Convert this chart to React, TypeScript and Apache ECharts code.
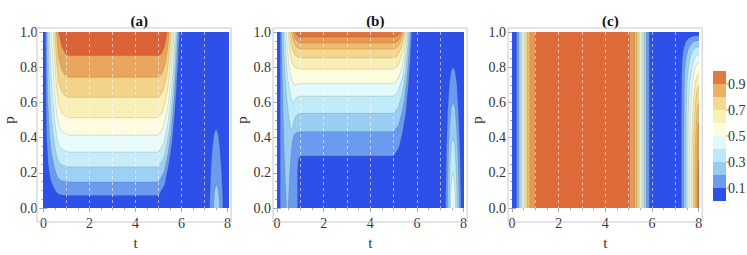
import { useEffect, useRef } from "react";
import * as echarts from "echarts";

type Pt = [number, number];

// ---- colour bands (bottom -> top) ----
const colorsA = ["#2f50e8", "#6a9bef", "#9dd0f5", "#c4edf9", "#e8fbfc", "#fdfce0", "#faefb6", "#f3d38a", "#e9a65e", "#db6136"];
const colorsB = ["#2f50e8", "#6a9bef", "#9acdf4", "#c0ebf8", "#e3fafc", "#fdfcdc", "#f9eeb5", "#f4d68c", "#eebb6c", "#e89a55", "#de7440"];
const colorsC = ["#2f50e8", "#6a9bef", "#9acdf4", "#c0ebf8", "#e3fafc", "#fdfcdc", "#f9eeb5", "#f4d68c", "#eebb6c", "#e89a55", "#de6a3a"];
const legendColors = ["#2f50e8", "#6a9bef", "#97cbf4", "#bce8f8", "#e0fafb", "#fdfcdc", "#fbf0b4", "#f4d88c", "#ebb064", "#e07a44"];
const legendLabels = ["0.1", "0.3", "0.5", "0.7", "0.9"];
const legendLabelValues = [0.1, 0.3, 0.5, 0.7, 0.9];
const titles = ["(a)", "(b)", "(c)"];

// ---- panel (a): contour regions (value >= level k), k = 1..9 ----
const aMain: Pt[][] = [
  [[0.09,1.05],[0.09,1],[0.115,0.59],[0.14,0.414],[0.2,0.262],[0.27,0.191],[0.34,0.148],[0.43,0.122],[0.5,0.104],[0.57,0.09],[0.66,0.08],[0.8,0.074],[1.1,0.071],[5.0,0.071],[5.273,0.136],[5.455,0.257],[5.592,0.378],[5.728,0.582],[5.837,0.814],[5.91,1],[5.91,1.05]],
  [[0.14,1.05],[0.14,1],[0.17,0.743],[0.2,0.591],[0.27,0.414],[0.34,0.318],[0.43,0.262],[0.5,0.222],[0.57,0.191],[0.66,0.167],[0.8,0.155],[1.1,0.148],[5.0,0.148],[5.252,0.208],[5.42,0.318],[5.546,0.429],[5.672,0.617],[5.773,0.83],[5.84,1],[5.84,1.05]],
  [[0.2,1.05],[0.2,1],[0.235,0.813],[0.27,0.686],[0.34,0.514],[0.43,0.414],[0.5,0.346],[0.57,0.297],[0.66,0.262],[0.8,0.245],[1.1,0.234],[5.0,0.234],[5.237,0.288],[5.395,0.387],[5.514,0.487],[5.632,0.655],[5.727,0.847],[5.79,1],[5.79,1.05]],
  [[0.27,1.05],[0.27,1],[0.305,0.852],[0.34,0.743],[0.43,0.591],[0.5,0.485],[0.57,0.414],[0.66,0.36],[0.8,0.334],[1.1,0.318],[5.0,0.318],[5.219,0.366],[5.365,0.454],[5.475,0.543],[5.584,0.693],[5.672,0.864],[5.73,1],[5.73,1.05]],
  [[0.34,1.05],[0.34,1],[0.385,0.878],[0.43,0.784],[0.5,0.645],[0.57,0.543],[0.66,0.47],[0.8,0.435],[1.1,0.414],[5.0,0.414],[5.201,0.455],[5.335,0.531],[5.436,0.607],[5.536,0.736],[5.616,0.883],[5.67,1],[5.67,1.05]],
  [[0.43,1.05],[0.43,1],[0.465,0.897],[0.5,0.813],[0.57,0.686],[0.66,0.591],[0.8,0.543],[0.95,0.521],[1.1,0.514],[5.0,0.514],[5.183,0.548],[5.305,0.611],[5.397,0.674],[5.488,0.781],[5.561,0.903],[5.61,1],[5.61,1.05]],
  [[0.5,1.05],[0.5,1],[0.535,0.91],[0.57,0.835],[0.66,0.718],[0.8,0.662],[0.95,0.637],[1.1,0.629],[5.0,0.629],[5.162,0.655],[5.27,0.703],[5.351,0.751],[5.432,0.833],[5.497,0.926],[5.54,1],[5.54,1.05]],
  [[0.57,1.05],[0.57,1],[0.615,0.921],[0.66,0.852],[0.8,0.784],[0.95,0.753],[1.1,0.743],[5.0,0.743],[5.141,0.761],[5.235,0.794],[5.306,0.828],[5.376,0.884],[5.432,0.949],[5.47,1],[5.47,1.05]],
  [[0.66,1.05],[0.66,1],[0.73,0.957],[0.8,0.916],[0.95,0.878],[1.1,0.866],[5.0,0.866],[5.111,0.875],[5.185,0.893],[5.241,0.91],[5.296,0.94],[5.34,0.973],[5.37,1],[5.37,1.05]],
];
const aBump: Pt[][] = [
  [[7.22,-0.05],[7.23,0.05],[7.27,0.2],[7.33,0.33],[7.41,0.42],[7.5,0.45],[7.59,0.42],[7.67,0.33],[7.74,0.2],[7.79,0.05],[7.8,-0.05]],
  [[7.39,-0.05],[7.4,0.03],[7.44,0.1],[7.52,0.14],[7.6,0.1],[7.65,0.03],[7.66,-0.05]],
];

// ---- panel (b): contour regions, k = 1..10 ----
const bMain: Pt[][] = [
  [[0.14,1.05],[0.14,-0.05],[0.88,-0.05],[0.88,0.2],[0.9,0.26],[0.95,0.288],[1.05,0.296],[5.0,0.296],[5.234,0.345],[5.39,0.437],[5.507,0.528],[5.624,0.683],[5.718,0.859],[5.78,1],[5.78,1.05]],
  [[0.2,1.05],[0.2,1],[0.22,0.8],[0.26,0.55],[0.3,0.35],[0.35,0.18],[0.39,0.06],[0.41,-0.05],[0.47,-0.05],[0.5,0.06],[0.55,0.2],[0.6,0.3],[0.65,0.37],[0.72,0.415],[0.82,0.43],[1.0,0.434],[5.0,0.434],[5.216,0.474],[5.36,0.547],[5.468,0.621],[5.576,0.745],[5.662,0.887],[5.72,1],[5.72,1.05]],
  [[0.27,1.05],[0.27,1],[0.3,0.88],[0.35,0.74],[0.42,0.62],[0.5,0.52],[0.56,0.47],[0.6,0.447],[0.63,0.443],[0.67,0.46],[0.74,0.5],[0.82,0.525],[0.92,0.535],[1.05,0.538],[5.0,0.538],[5.198,0.57],[5.33,0.63],[5.429,0.69],[5.528,0.792],[5.607,0.908],[5.66,1],[5.66,1.05]],
  [[0.34,1.05],[0.34,1],[0.38,0.88],[0.44,0.76],[0.52,0.68],[0.6,0.63],[0.66,0.605],[0.7,0.598],[0.74,0.606],[0.8,0.624],[0.9,0.634],[1.05,0.636],[5.0,0.636],[5.183,0.661],[5.305,0.709],[5.397,0.756],[5.488,0.836],[5.561,0.927],[5.61,1],[5.61,1.05]],
  [[0.41,1.05],[0.41,1],[0.45,0.9],[0.52,0.8],[0.6,0.74],[0.7,0.71],[0.78,0.696],[0.84,0.7],[0.92,0.706],[1.05,0.707],[5.0,0.707],[5.168,0.728],[5.28,0.766],[5.364,0.804],[5.448,0.868],[5.515,0.941],[5.56,1],[5.56,1.05]],
  [[0.48,1.05],[0.48,1],[0.52,0.92],[0.58,0.86],[0.66,0.82],[0.76,0.8],[0.9,0.791],[1.05,0.789],[5.0,0.789],[5.153,0.804],[5.255,0.831],[5.332,0.859],[5.408,0.905],[5.469,0.958],[5.51,1],[5.51,1.05]],
  [[0.55,1.05],[0.55,1],[0.6,0.94],[0.67,0.9],[0.76,0.872],[0.88,0.858],[1.05,0.853],[5.0,0.853],[5.138,0.863],[5.23,0.882],[5.299,0.902],[5.368,0.934],[5.423,0.971],[5.46,1],[5.46,1.05]],
  [[0.62,1.05],[0.62,1],[0.68,0.96],[0.76,0.93],[0.86,0.912],[1.0,0.904],[1.1,0.903],[5.0,0.903],[5.123,0.91],[5.205,0.922],[5.267,0.935],[5.328,0.956],[5.377,0.981],[5.41,1],[5.41,1.05]],
  [[0.7,1.05],[0.7,1],[0.76,0.97],[0.84,0.952],[0.95,0.941],[1.1,0.938],[5.0,0.938],[5.108,0.942],[5.18,0.95],[5.234,0.958],[5.288,0.972],[5.331,0.988],[5.36,1],[5.36,1.05]],
  [[0.79,1.05],[0.79,1],[0.84,0.985],[0.92,0.975],[1.05,0.972],[5.0,0.972],[5.09,0.974],[5.15,0.978],[5.195,0.981],[5.24,0.987],[5.276,0.994],[5.3,1],[5.3,1.05]],
];
const bBump: Pt[][] = [
  [[7.23,-0.05],[7.24,0.1],[7.27,0.35],[7.32,0.55],[7.39,0.7],[7.47,0.78],[7.55,0.8],[7.63,0.78],[7.71,0.7],[7.78,0.55],[7.84,0.35],[7.88,0.1],[7.89,-0.05]],
  [[7.31,-0.05],[7.32,0.1],[7.35,0.3],[7.4,0.46],[7.47,0.57],[7.55,0.6],[7.63,0.57],[7.7,0.46],[7.76,0.3],[7.8,0.1],[7.81,-0.05]],
  [[7.38,-0.05],[7.39,0.1],[7.42,0.25],[7.47,0.36],[7.55,0.4],[7.62,0.36],[7.67,0.25],[7.71,0.1],[7.72,-0.05]],
  [[7.43,-0.05],[7.44,0.07],[7.48,0.16],[7.54,0.2],[7.6,0.16],[7.64,0.07],[7.65,-0.05]],
];

// ---- panel (c): vertical bands (left / right edge of each level) + right-hand rise ----
const cLeft = [0.2, 0.28, 0.35, 0.41, 0.47, 0.53, 0.6, 0.67, 0.77, 0.99];
const cRight = [5.88, 5.76, 5.67, 5.6, 5.53, 5.47, 5.41, 5.35, 5.25, 5.03];
const cBump: Pt[][] = [
  [[7.26,-0.05],[7.26,0.5],[7.27,0.75],[7.3,0.85],[7.36,0.91],[7.45,0.945],[7.58,0.965],[7.75,0.976],[8.05,0.98],[8.05,-0.05]],
  [[7.37,-0.05],[7.37,0.45],[7.38,0.68],[7.41,0.79],[7.47,0.86],[7.56,0.905],[7.68,0.933],[7.83,0.948],[8.05,0.953],[8.05,-0.05]],
  [[7.46,-0.05],[7.46,0.4],[7.47,0.6],[7.5,0.72],[7.56,0.8],[7.64,0.86],[7.75,0.895],[7.88,0.912],[8.05,0.917],[8.05,-0.05]],
  [[7.54,-0.05],[7.54,0.35],[7.55,0.52],[7.58,0.64],[7.63,0.73],[7.71,0.8],[7.8,0.845],[7.9,0.866],[8.05,0.873],[8.05,-0.05]],
  [[7.62,-0.05],[7.62,0.3],[7.63,0.46],[7.66,0.58],[7.71,0.68],[7.78,0.76],[7.86,0.805],[7.94,0.823],[8.05,0.828],[8.05,-0.05]],
  [[7.7,-0.05],[7.7,0.25],[7.71,0.4],[7.74,0.52],[7.78,0.62],[7.84,0.7],[7.91,0.745],[8.05,0.765],[8.05,-0.05]],
  [[7.77,-0.05],[7.77,0.22],[7.78,0.36],[7.81,0.48],[7.85,0.58],[7.9,0.65],[7.96,0.685],[8.05,0.694],[8.05,-0.05]],
  [[7.84,-0.05],[7.84,0.2],[7.85,0.32],[7.88,0.43],[7.92,0.52],[7.97,0.59],[8.05,0.605],[8.05,-0.05]],
  [[7.92,-0.05],[7.92,0.2],[7.93,0.32],[7.95,0.41],[7.98,0.48],[8.05,0.497],[8.05,-0.05]],
  [[7.97,-0.05],[7.97,0.15],[7.99,0.26],[8.05,0.3],[8.05,-0.05]],
];

const FULL: Pt[] = [[-0.2,-0.2],[8.2,-0.2],[8.2,1.2],[-0.2,1.2]];

type Region = { band: number; pts: Pt[] };
function regionsOf(main: Pt[][], bump: Pt[][]): Region[] {
  return [
    { band: 0, pts: FULL },
    ...main.map((pts, i) => ({ band: i + 1, pts })),
    ...bump.map((pts, i) => ({ band: i + 1, pts })),
  ];
}
const cMain: Pt[][] = cLeft.map((tl, i) => [[tl, -0.05], [tl, 1.05], [cRight[i], 1.05], [cRight[i], -0.05]] as Pt[]);

const panels = [
  { regions: regionsOf(aMain, aBump), colors: colorsA },
  { regions: regionsOf(bMain, bBump), colors: colorsB },
  { regions: regionsOf(cMain, cBump), colors: colorsC },
];

const FONT = "'Liberation Serif'";
const GRIDS = [
  { left: 41, top: 32, width: 186.6, height: 187 },
  { left: 277, top: 32, width: 186.6, height: 187 },
  { left: 512, top: 32, width: 186.7, height: 187 },
];

export default function App() {
  const ref = useRef<HTMLDivElement>(null);
  useEffect(() => {
    if (!ref.current) return;
    const chart = echarts.init(ref.current, undefined, { renderer: "svg" });
    const tickColor = "#a8a8a8";
    const xAxes: any[] = [];
    const yAxes: any[] = [];
    const series: any[] = [];
    const graphics: any[] = [];
    GRIDS.forEach((g, i) => {
      xAxes.push({
        gridIndex: i, type: "value", min: 0, max: 8, interval: 2, position: "bottom", offset: 3,
        axisLine: { show: false },
        axisTick: { show: true, inside: true, length: 4, lineStyle: { color: tickColor } },
        minorTick: { show: true, splitNumber: 4, length: 2, lineStyle: { color: tickColor } },
        splitLine: { show: false },
        axisLabel: { fontFamily: FONT, fontSize: 14, color: "#333", margin: 5 },
        name: "t", nameLocation: "middle", nameGap: 23,
        nameTextStyle: { fontFamily: FONT, fontSize: 15, color: "#333" },
      });
      xAxes.push({
        gridIndex: i, type: "value", min: 0, max: 8, interval: 2, position: "top", offset: 4,
        axisLine: { show: false },
        axisTick: { show: true, inside: true, length: 4, lineStyle: { color: tickColor } },
        minorTick: { show: true, splitNumber: 4, length: 2, lineStyle: { color: tickColor } },
        splitLine: { show: false }, axisLabel: { show: false },
      });
      xAxes.push({
        gridIndex: i, type: "value", min: 0, max: 8, interval: 1, position: "bottom", z: 5,
        axisLine: { show: false }, axisTick: { show: false }, axisLabel: { show: false },
        splitLine: { show: true, showMinLine: false, showMaxLine: false, lineStyle: { type: [3, 3], color: "rgba(255,255,255,0.55)", width: 1 } },
      });
      yAxes.push({
        gridIndex: i, type: "value", min: 0, max: 1, interval: 0.2, position: "left", offset: 4,
        axisLine: { show: false },
        axisTick: { show: true, inside: true, length: 4, lineStyle: { color: tickColor } },
        minorTick: { show: true, splitNumber: 4, length: 2, lineStyle: { color: tickColor } },
        splitLine: { show: false },
        axisLabel: { fontFamily: FONT, fontSize: 14, color: "#333", margin: 2, formatter: (v: number) => v.toFixed(1) },
        name: "p", nameLocation: "middle", nameGap: 21, nameRotate: 90,
        nameTextStyle: { fontFamily: FONT, fontSize: 15, color: "#333" },
      });
      yAxes.push({
        gridIndex: i, type: "value", min: 0, max: 1, interval: 0.2, position: "right", offset: 3.5,
        axisLine: { show: false },
        axisTick: { show: true, inside: true, length: 4, lineStyle: { color: tickColor } },
        minorTick: { show: true, splitNumber: 4, length: 2, lineStyle: { color: tickColor } },
        splitLine: { show: false }, axisLabel: { show: false },
      });
      const { regions, colors } = panels[i];
      series.push({
        type: "custom", xAxisIndex: 3 * i, yAxisIndex: 2 * i, clip: true, silent: true,
        data: regions.map((r) => r.pts[0]),
        renderItem: (params: any, api: any) => {
          const r = regions[params.dataIndex];
          return {
            type: "polygon",
            shape: { points: r.pts.map((p) => api.coord(p)) },
            style: {
              fill: colors[r.band],
              stroke: r.band === 0 ? "none" : "rgba(80,80,60,0.3)",
              lineWidth: 0.6,
            },
          };
        },
      });
      graphics.push({
        type: "rect", z: 10, silent: true,
        shape: { x: g.left - 4, y: g.top - 4, width: g.width + 7.5, height: g.height + 7 },
        style: { fill: "none", stroke: "#c8c8c8", lineWidth: 1 },
      });
    });

    // colour legend
    const lx = 713, lBottom = 201, lh = 13;
    legendColors.forEach((c, i) => {
      graphics.push({
        type: "rect", silent: true,
        shape: { x: lx, y: lBottom - lh * (i + 1), width: 13, height: lh },
        style: { fill: c },
      });
    });
    legendLabels.forEach((s, i) => {
      const y = lBottom - legendLabelValues[i] * 10 * lh;
      graphics.push({
        type: "line", silent: true,
        shape: { x1: lx + 13, y1: y, x2: lx + 15.5, y2: y },
        style: { stroke: "#999", lineWidth: 1 },
      });
      graphics.push({
        type: "text", silent: true, x: lx + 15, y,
        style: { text: s, fontFamily: FONT, fontSize: 14, fill: "#333", verticalAlign: "middle", align: "left" },
      });
    });

    chart.setOption({
      animation: false,
      backgroundColor: "#ffffff",
      title: GRIDS.map((g, i) => ({
        text: titles[i], left: g.left + g.width / 2, top: 8, textAlign: "center",
        textStyle: { fontFamily: FONT, fontSize: 15, fontWeight: "bold", color: "#111" },
      })),
      grid: GRIDS.map((g) => ({ ...g, containLabel: false })),
      xAxis: xAxes,
      yAxis: yAxes,
      series,
      graphic: graphics,
    });
    return () => chart.dispose();
  }, []);
  return <div ref={ref} style={{ position: "fixed", left: 0, top: 0, width: 747, height: 255, background: "#fff" }} />;
}
